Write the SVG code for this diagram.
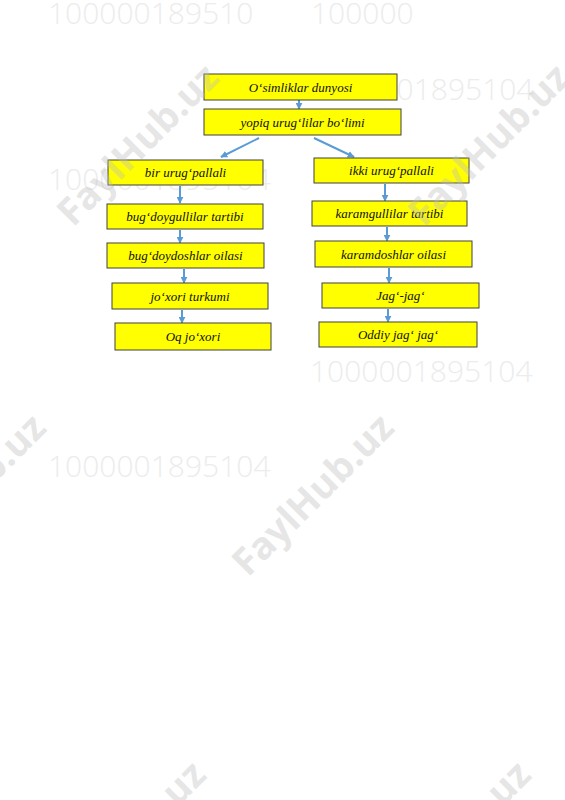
<svg xmlns="http://www.w3.org/2000/svg" width="565" height="800" viewBox="0 0 565 800">
<defs>
<style>
.box{fill:#ffff00;stroke:#404040;stroke-width:1}
.lbl{font-family:"Liberation Serif",serif;font-style:italic;font-size:13px;fill:#111;text-anchor:middle}
.con{stroke:#5b9bd5;stroke-width:2;fill:none;marker-end:url(#ah)}
.wmn{font-family:"Open Sans",sans-serif;font-weight:300;font-size:30px;fill:#ececec}
.wmf{font-family:"Open Sans",sans-serif;font-weight:700;font-size:38px;fill:#bdbdbd;fill-opacity:0.4}
</style>
<marker id="ah" viewBox="0 0 10 10" refX="9" refY="5" markerWidth="3.5" markerHeight="3.5" orient="auto" markerUnits="strokeWidth">
<path d="M0,0 L10,5 L0,10 z" fill="#5b9bd5"/>
</marker>
</defs>
<rect width="565" height="800" fill="#ffffff"/>
<g id="watermark-numbers">
<text class="wmn" x="48" y="24">100000189510</text>
<text class="wmn" x="311" y="24">100000</text>
<text class="wmn" x="311" y="100">1000001895104</text>
<text class="wmn" x="48" y="190">1000001895104</text>
<text class="wmn" x="310" y="382">1000001895104</text>
<text class="wmn" x="48" y="477">1000001895104</text>
</g>
<g id="connectors">
<line class="con" x1="299" y1="100" x2="299" y2="109"/>
<line class="con" x1="259" y1="138" x2="221" y2="157"/>
<line class="con" x1="314" y1="138" x2="354" y2="157"/>
<line class="con" x1="180" y1="186" x2="180" y2="203"/>
<line class="con" x1="180" y1="230" x2="180" y2="243"/>
<line class="con" x1="184" y1="269" x2="184" y2="283"/>
<line class="con" x1="182" y1="310" x2="182" y2="323"/>
<line class="con" x1="385" y1="184" x2="385" y2="201"/>
<line class="con" x1="387" y1="227" x2="387" y2="241"/>
<line class="con" x1="389" y1="268" x2="389" y2="283"/>
<line class="con" x1="388" y1="309" x2="388" y2="322"/>
</g>
<g id="n1"><rect class="box" x="204" y="74" width="193" height="26"/><text class="lbl" x="300.5" y="91.5">O‘simliklar dunyosi</text></g>
<g id="n2"><rect class="box" x="204" y="109" width="197" height="26"/><text class="lbl" x="302.5" y="126.5">yopiq urug‘lilar bo‘limi</text></g>
<g id="l1"><rect class="box" x="108" y="160" width="155" height="25"/><text class="lbl" x="185.5" y="177">bir urug‘pallali</text></g>
<g id="l2"><rect class="box" x="107" y="204" width="156" height="25"/><text class="lbl" x="185" y="221">bug‘doygullilar tartibi</text></g>
<g id="l3"><rect class="box" x="107" y="243" width="157" height="25"/><text class="lbl" x="185.5" y="260">bug‘doydoshlar oilasi</text></g>
<g id="l4"><rect class="box" x="112" y="283" width="156" height="26"/><text class="lbl" x="190" y="300.5">jo‘xori turkumi</text></g>
<g id="l5"><rect class="box" x="115" y="323" width="156" height="27"/><text class="lbl" x="193" y="341">Oq jo‘xori</text></g>
<g id="r1"><rect class="box" x="314" y="158" width="155" height="25"/><text class="lbl" x="391.5" y="175">ikki urug‘pallali</text></g>
<g id="r2"><rect class="box" x="312" y="201" width="155" height="25"/><text class="lbl" x="389.5" y="218">karamgullilar tartibi</text></g>
<g id="r3"><rect class="box" x="315" y="241" width="157" height="26"/><text class="lbl" x="393.5" y="258.5">karamdoshlar oilasi</text></g>
<g id="r4"><rect class="box" x="322" y="283" width="157" height="25"/><text class="lbl" x="400.5" y="300">Jag‘-jag‘</text></g>
<g id="r5"><rect class="box" x="319" y="322" width="158" height="25"/><text class="lbl" x="398" y="339">Oddiy jag‘ jag‘</text></g>
<g id="watermark-logos">
<text class="wmf" transform="translate(73,228) rotate(-45)">FaylHub.uz</text>
<text class="wmf" transform="translate(424,228) rotate(-45)">FaylHub.uz</text>
<text class="wmf" transform="translate(248,578) rotate(-45)">FaylHub.uz</text>
<text class="wmf" transform="translate(-100,578) rotate(-45)">FaylHub.uz</text>
<text class="wmf" transform="translate(60,925) rotate(-45)">FaylHub.uz</text>
<text class="wmf" transform="translate(385,925) rotate(-45)">FaylHub.uz</text>
</g>
</svg>
